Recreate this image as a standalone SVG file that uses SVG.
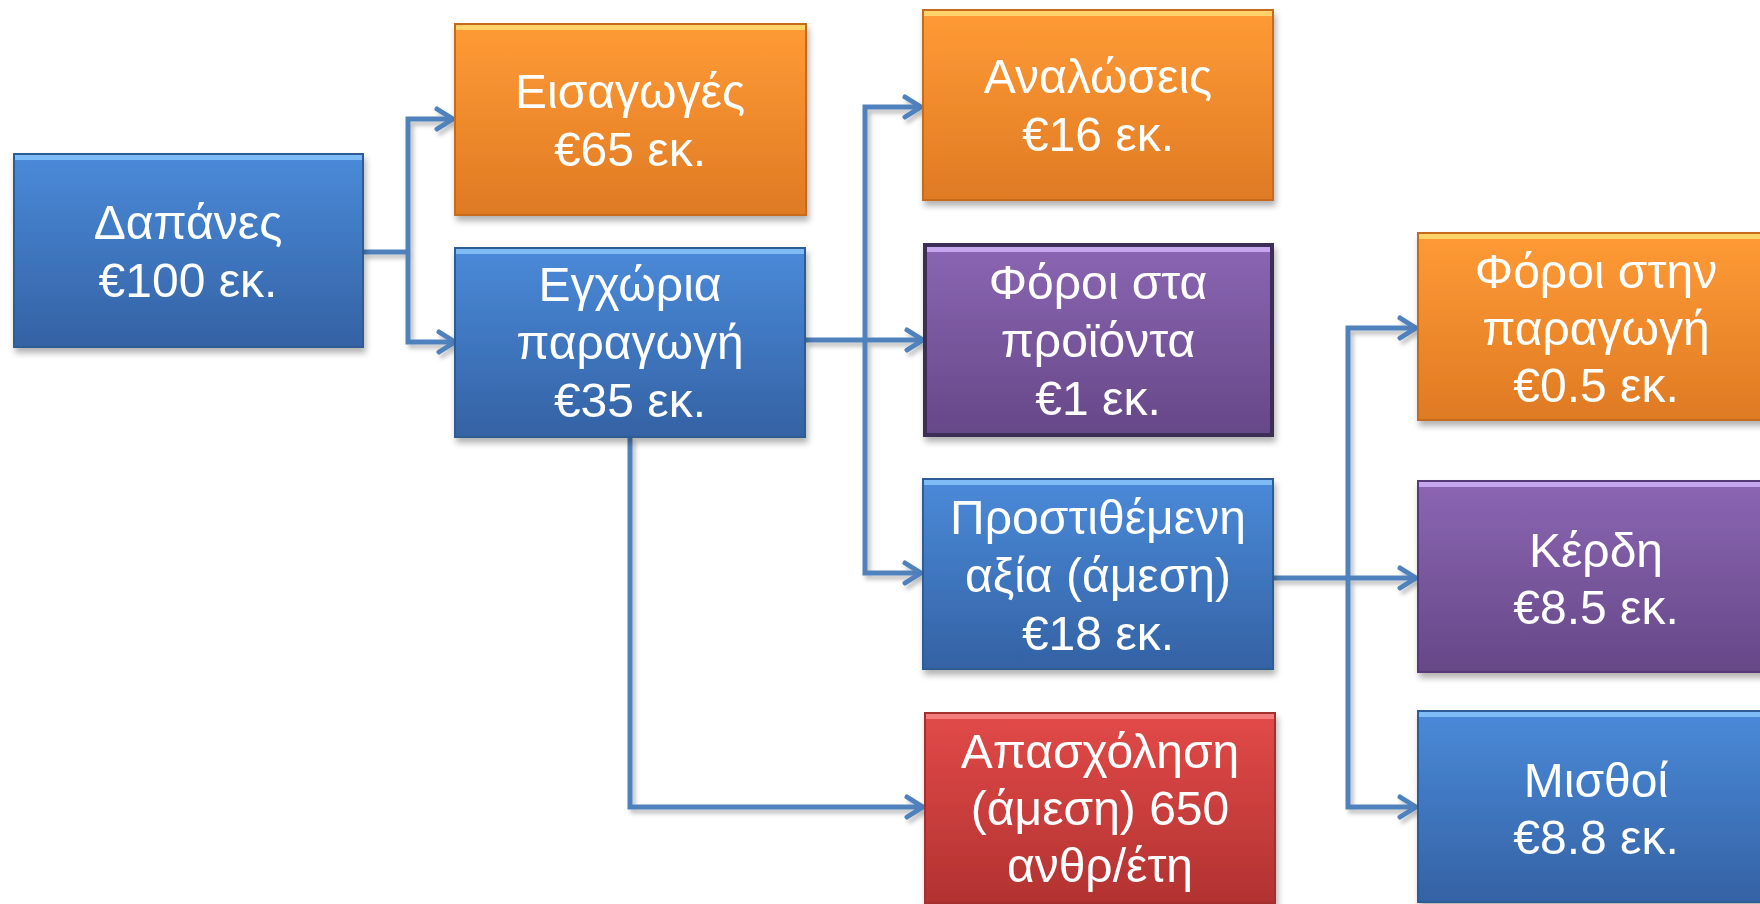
<svg xmlns="http://www.w3.org/2000/svg" width="1760" height="904" viewBox="0 0 1760 904">
<style>
.t{font-family:"Liberation Sans",Arial,sans-serif;font-size:48px;fill:#fff;text-anchor:middle}
.c{fill:none;stroke:#4f81bd;stroke-width:5;stroke-linejoin:miter}
.blue{fill:url(#gBlue);stroke:#2f5b95;stroke-width:2}
.orange{fill:url(#gOrange);stroke:#c76a1f;stroke-width:2}
.purple{fill:url(#gPurple);stroke:#563b78;stroke-width:2}
.purple2{fill:url(#gPurple);stroke:#3d2d55;stroke-width:4}
.red{fill:url(#gRed);stroke:#a52d2d;stroke-width:2}
.hb{fill:#7fbcf5}.ho{fill:#ffd36a}.hp{fill:#c6a6ee}.hr{fill:#f47c7c}
</style>
<defs>
<linearGradient id="gBlue" x1="0" y1="0" x2="0" y2="1"><stop offset="0" stop-color="#4a8ad9"/><stop offset="1" stop-color="#3462a4"/></linearGradient>
<linearGradient id="gOrange" x1="0" y1="0" x2="0" y2="1"><stop offset="0" stop-color="#ff9b35"/><stop offset="1" stop-color="#df7a24"/></linearGradient>
<linearGradient id="gPurple" x1="0" y1="0" x2="0" y2="1"><stop offset="0" stop-color="#8b66b3"/><stop offset="1" stop-color="#664787"/></linearGradient>
<linearGradient id="gRed" x1="0" y1="0" x2="0" y2="1"><stop offset="0" stop-color="#e24a48"/><stop offset="1" stop-color="#b23231"/></linearGradient>
<filter id="sh" x="-10%" y="-10%" width="120%" height="130%"><feDropShadow dx="2" dy="5" stdDeviation="3" flood-color="#000" flood-opacity="0.3"/></filter>
<filter id="csh" x="-20%" y="-20%" width="140%" height="140%"><feDropShadow dx="3" dy="4" stdDeviation="2" flood-color="#000" flood-opacity="0.25"/></filter>
<marker id="arr" markerUnits="userSpaceOnUse" markerWidth="30" markerHeight="30" refX="20" refY="12" orient="auto" overflow="visible">
<path d="M4,2 L20,12 L4,22" fill="none" stroke="#4f81bd" stroke-width="5" stroke-linecap="round" stroke-linejoin="round"/>
</marker>
</defs>
<rect width="1760" height="904" fill="#fff"/>

<g id="connectors" filter="url(#csh)">
<path class="c" d="M363,252 H408"/>
<path class="c" d="M408,252 V119 H453" marker-end="url(#arr)"/>
<path class="c" d="M408,252 V342 H455" marker-end="url(#arr)"/>
<path class="c" d="M805,340 H865"/>
<path class="c" d="M865,340 V107 H921" marker-end="url(#arr)"/>
<path class="c" d="M865,340 H923" marker-end="url(#arr)"/>
<path class="c" d="M865,340 V573 H921" marker-end="url(#arr)"/>
<path class="c" d="M630,437 V807 H923" marker-end="url(#arr)"/>
<path class="c" d="M1273,578 H1348"/>
<path class="c" d="M1348,578 V328 H1416" marker-end="url(#arr)"/>
<path class="c" d="M1348,578 H1416" marker-end="url(#arr)"/>
<path class="c" d="M1348,578 V807 H1416" marker-end="url(#arr)"/>
</g>

<g id="dapanes" filter="url(#sh)">
<rect class="blue" x="14" y="154" width="349" height="193"/>
<rect class="hb" x="15" y="155" width="347" height="5"/>
<text class="t" x="188" y="239">Δαπάνες</text>
<text class="t" x="188" y="297">€100 εκ.</text>
</g>

<g id="eisagoges" filter="url(#sh)">
<rect class="orange" x="455" y="24" width="351" height="191"/>
<rect class="ho" x="456" y="25" width="349" height="5"/>
<text class="t" x="630" y="108">Εισαγωγές</text>
<text class="t" x="630" y="166">€65 εκ.</text>
</g>

<g id="egxoria" filter="url(#sh)">
<rect class="blue" x="455" y="248" width="350" height="189"/>
<rect class="hb" x="456" y="249" width="348" height="5"/>
<text class="t" x="630" y="301">Εγχώρια</text>
<text class="t" x="630" y="359">παραγωγή</text>
<text class="t" x="630" y="417">€35 εκ.</text>
</g>

<g id="analoseis" filter="url(#sh)">
<rect class="orange" x="923" y="10" width="350" height="190"/>
<rect class="ho" x="924" y="11" width="348" height="5"/>
<text class="t" x="1098" y="93">Αναλώσεις</text>
<text class="t" x="1098" y="151">€16 εκ.</text>
</g>

<g id="foroi-proionta" filter="url(#sh)">
<rect class="purple2" x="925" y="245" width="347" height="190"/>
<rect class="hp" x="927" y="247" width="343" height="5"/>
<text class="t" x="1098" y="299">Φόροι στα</text>
<text class="t" x="1098" y="357">προϊόντα</text>
<text class="t" x="1098" y="415">€1 εκ.</text>
</g>

<g id="prostithemeni" filter="url(#sh)">
<rect class="blue" x="923" y="479" width="350" height="190"/>
<rect class="hb" x="924" y="480" width="348" height="5"/>
<text class="t" x="1098" y="534">Προστιθέμενη</text>
<text class="t" x="1098" y="592">αξία (άμεση)</text>
<text class="t" x="1098" y="650">€18 εκ.</text>
</g>

<g id="apasxolisi" filter="url(#sh)">
<rect class="red" x="925" y="713" width="350" height="190"/>
<rect class="hr" x="926" y="714" width="348" height="5"/>
<text class="t" x="1100" y="768">Απασχόληση</text>
<text class="t" x="1100" y="825">(άμεση) 650</text>
<text class="t" x="1100" y="882">ανθρ/έτη</text>
</g>

<g id="foroi-paragogi" filter="url(#sh)">
<rect class="orange" x="1418" y="233" width="358" height="187"/>
<rect class="ho" x="1419" y="234" width="356" height="5"/>
<text class="t" x="1596" y="288">Φόροι στην</text>
<text class="t" x="1596" y="345">παραγωγή</text>
<text class="t" x="1596" y="402">€0.5 εκ.</text>
</g>

<g id="kerdi" filter="url(#sh)">
<rect class="purple" x="1418" y="481" width="358" height="191"/>
<rect class="hp" x="1419" y="482" width="356" height="5"/>
<text class="t" x="1596" y="567">Κέρδη</text>
<text class="t" x="1596" y="624">€8.5 εκ.</text>
</g>

<g id="misthoi" filter="url(#sh)">
<rect class="blue" x="1418" y="711" width="358" height="191"/>
<rect class="hb" x="1419" y="712" width="356" height="5"/>
<text class="t" x="1596" y="797">Μισθοί</text>
<text class="t" x="1596" y="854">€8.8 εκ.</text>
</g>
</svg>
